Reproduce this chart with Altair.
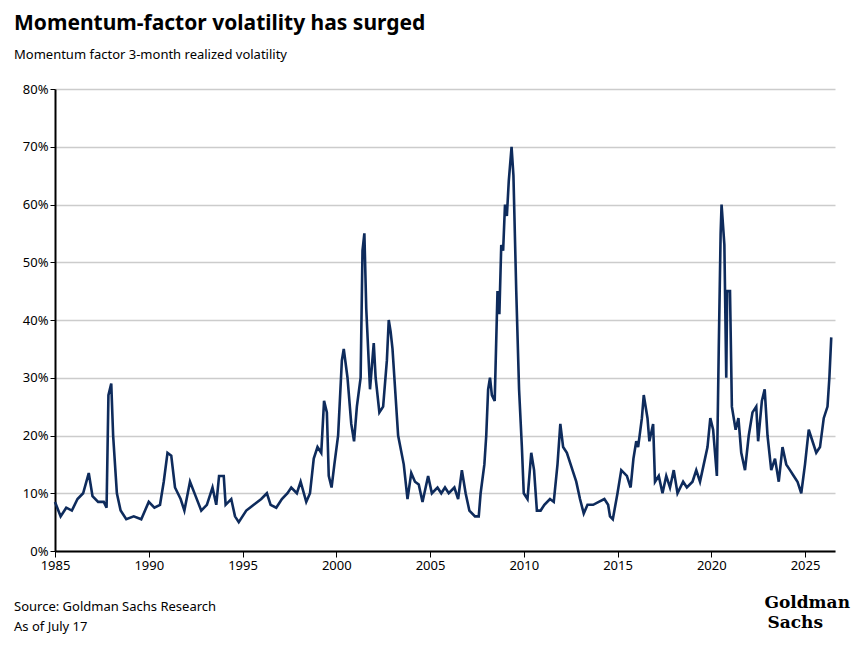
import pandas as pd
import altair as alt

years = [
    1985.0, 1985.3, 1985.6, 1985.9, 1986.2, 1986.5, 1986.8, 1987.0, 1987.3, 1987.6,
    1987.75, 1987.85, 1988.0, 1988.1, 1988.3, 1988.5, 1988.8, 1989.2, 1989.6, 1990.0,
    1990.3, 1990.6, 1990.8, 1991.0, 1991.2, 1991.4, 1991.7, 1991.9, 1992.2, 1992.5,
    1992.8, 1993.1, 1993.4, 1993.6, 1993.75, 1994.0, 1994.1, 1994.4, 1994.6, 1994.8,
    1995.2, 1995.6, 1996.0, 1996.3, 1996.5, 1996.8, 1997.1, 1997.4, 1997.6, 1997.9,
    1998.1, 1998.4, 1998.6, 1998.8, 1999.0, 1999.2, 1999.35, 1999.5, 1999.6, 1999.75,
    1999.9, 2000.1, 2000.3, 2000.4, 2000.6, 2000.8, 2000.95, 2001.1, 2001.3, 2001.4,
    2001.5, 2001.6, 2001.8, 2002.0, 2002.1, 2002.3, 2002.5, 2002.7, 2002.8, 2002.9,
    2003.0, 2003.1, 2003.3, 2003.6, 2003.8, 2004.0, 2004.2, 2004.4, 2004.6, 2004.9,
    2005.1, 2005.4, 2005.6, 2005.8, 2006.0, 2006.3, 2006.5, 2006.7, 2006.9, 2007.1,
    2007.4, 2007.6, 2007.7, 2007.9, 2008.0, 2008.1, 2008.2, 2008.3, 2008.45, 2008.6,
    2008.7, 2008.8, 2008.9, 2009.0, 2009.1, 2009.2, 2009.35, 2009.45, 2009.6, 2009.75,
    2009.9, 2010.0, 2010.2, 2010.4, 2010.55, 2010.7, 2010.9, 2011.1, 2011.4, 2011.6,
    2011.8, 2011.95, 2012.1, 2012.3, 2012.6, 2012.8, 2013.0, 2013.2, 2013.4, 2013.7,
    2014.0, 2014.3, 2014.5, 2014.6, 2014.75, 2015.0, 2015.2, 2015.5, 2015.7, 2015.85,
    2016.0, 2016.1, 2016.3, 2016.4, 2016.6, 2016.7, 2016.9, 2017.0, 2017.2, 2017.4,
    2017.6, 2017.8, 2018.0, 2018.2, 2018.5, 2018.7, 2019.0, 2019.2, 2019.4, 2019.6,
    2019.8, 2019.95, 2020.1, 2020.3, 2020.4, 2020.5, 2020.55, 2020.7, 2020.8, 2020.85,
    2021.0, 2021.1, 2021.3, 2021.45, 2021.6, 2021.8, 2022.0, 2022.2, 2022.4, 2022.5,
    2022.7, 2022.85, 2023.0, 2023.2, 2023.4, 2023.6, 2023.8, 2024.0, 2024.2, 2024.4,
    2024.6, 2024.8, 2025.0, 2025.2, 2025.4, 2025.6, 2025.8, 2026.0, 2026.2, 2026.3,
    2026.4,
]
vol = [
    8.5, 6, 7.5, 7, 9, 10, 13.5, 9.5, 8.5, 8.5,
    7.5, 27, 29, 20, 10, 7, 5.5, 6, 5.5, 8.5,
    7.5, 8, 12, 17, 16.5, 11, 9, 7, 12, 9.5,
    7, 8, 11, 8, 13, 13, 8, 9, 6, 5,
    7, 8, 9, 10, 8, 7.5, 9, 10, 11, 10,
    12, 8.5, 10, 16, 18, 17, 26, 24, 13, 11,
    15, 20, 33, 35, 30, 22, 19, 25, 30, 52,
    55, 42, 28, 36, 30, 24, 25, 33, 40, 38,
    35, 30, 20, 15, 9, 13.5, 12, 11.5, 8.5, 13,
    10, 11, 10, 11, 10, 11, 9, 14, 10, 7,
    6, 6, 10, 15, 20, 28, 30, 27, 26, 45,
    41, 53, 52, 60, 58, 64, 70, 65, 45, 28,
    18, 10, 9, 17, 14, 7, 7, 8, 9, 8.5,
    15, 22, 18, 17, 14, 12, 9, 6.5, 8, 8,
    8.5, 9, 8, 6, 5.5, 10, 14, 13, 11, 16,
    19, 18, 23, 27, 23, 19, 22, 12, 13, 10,
    13, 11, 14, 10, 12, 11, 12, 14, 12, 15,
    18, 23, 21, 13, 35, 55, 60, 53, 30, 45,
    45, 25, 21, 23, 17, 14, 20, 24, 25, 19,
    26, 28, 20, 14, 16, 12, 18, 15, 14, 13,
    12, 10, 15, 21, 19, 17, 18, 23, 25, 30,
    37,
]

df = pd.DataFrame({"year": years, "vol": vol})
font = "Noto Sans"

line = alt.Chart(df).mark_line(color="#0e2b5c", strokeWidth=2.6).encode(
    x=alt.X("year:Q", title=None,
            scale=alt.Scale(domain=[1985, 2026.6], nice=False, zero=False),
            axis=alt.Axis(values=list(range(1985, 2030, 5)), format="d", grid=False,
                          labelFlush=False, domainColor="black", domainWidth=2,
                          tickColor="black", tickSize=6, labelFontSize=13,
                          labelColor="black", labelFont=font)),
    y=alt.Y("vol:Q", title=None, scale=alt.Scale(domain=[0, 80]),
            axis=alt.Axis(values=list(range(0, 90, 10)), labelExpr="datum.value + '%'",
                          gridColor="#cccccc", gridWidth=1.5, domainColor="black",
                          domainWidth=2, tickColor="black", tickSize=5,
                          labelFontSize=13, labelColor="black", labelFont=font)),
)

def txt(s, x, y, size, bold=False, align="left", fnt=font):
    return alt.Chart(pd.DataFrame({"t": [s]})).mark_text(
        align=align, baseline="alphabetic", fontSize=size,
        fontWeight="bold" if bold else "normal", font=fnt, color="black",
    ).encode(text="t:N", x=alt.value(x), y=alt.value(y))

chart = alt.layer(
    line,
    txt("Momentum-factor volatility has surged", -41, -59, 21, bold=True),
    txt("Momentum factor 3-month realized volatility", -41, -30, 13),
    txt("Source: Goldman Sachs Research", -41, 522, 13),
    txt("As of July 17", -41, 542, 13),
    txt("Goldman", 795, 519, 17, bold=True, align="right", fnt="DejaVu Serif"),
    txt("Sachs", 768, 539, 17, bold=True, align="right", fnt="DejaVu Serif"),
).properties(
    width=780, height=462, autosize="none",
    padding={"left": 47, "top": 81, "right": 25, "bottom": 92},
).configure_view(stroke=None)

chart.save("out.html", embed_options={"renderer": "svg", "actions": False})
